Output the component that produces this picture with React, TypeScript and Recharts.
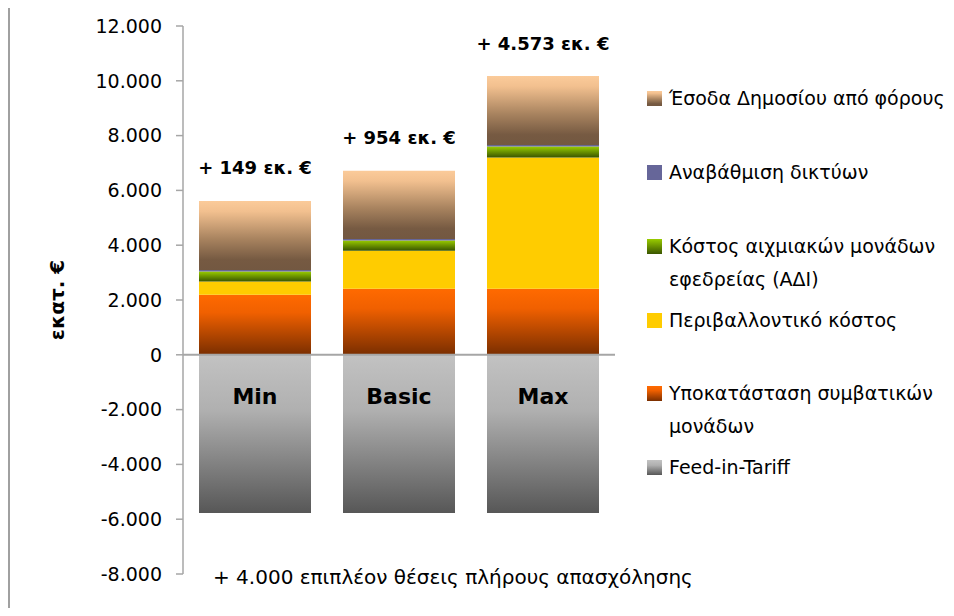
import { BarChart, Bar, XAxis, YAxis, Legend, ReferenceLine, LabelList, Label } from 'recharts'

const categories = ['Min', 'Basic', 'Max']
const feedInTariff = [-5770, -5770, -5770]
const substitution = [2190, 2410, 2410]
const environmental = [485, 1390, 4790]
const reserveCost = [365, 375, 400]
const gridUpgrade = [55, 55, 55]
const taxRevenue = [2520, 2490, 2520]
const gainLabels = ['+ 149 εκ. €', '+ 954 εκ. €', '+ 4.573 εκ. €']
const yTicks = [-8000, -6000, -4000, -2000, 0, 2000, 4000, 6000, 8000, 10000, 12000]
const footNote = '+ 4.000 επιπλέον θέσεις πλήρους απασχόλησης'

const FONT = '"DejaVu Sans", Verdana, sans-serif'

type Stop = [number, string]
interface Series { key: string; name: string; stops: Stop[] }

// bottom to top
const SERIES: Series[] = [
  { key: 'fit', name: 'Feed-in-Tariff', stops: [[0, '#c2c2c2'], [0.35, '#b0b0b0'], [1, '#575757']] },
  { key: 'sub', name: 'Υποκατάσταση συμβατικών μονάδων', stops: [[0, '#ff6a00'], [0.3, '#f06000'], [1, '#7a2e00']] },
  { key: 'env', name: 'Περιβαλλοντικό κόστος', stops: [[0, '#ffcc00'], [1, '#ffcc00']] },
  { key: 'res', name: 'Κόστος αιχμιακών μονάδων εφεδρείας (ΑΔΙ)', stops: [[0, '#99cc00'], [1, '#3a5500']] },
  { key: 'grid', name: 'Αναβάθμιση δικτύων', stops: [[0, '#666699'], [1, '#666699']] },
  { key: 'tax', name: 'Έσοδα Δημοσίου από φόρους', stops: [[0, '#fbcb9a'], [0.15, '#f2c08f'], [0.55, '#a8835f'], [0.85, '#765a42'], [1, '#735841']] },
]

const data = categories.map((name, i) => ({
  name,
  fit: feedInTariff[i],
  sub: substitution[i],
  env: environmental[i],
  res: reserveCost[i],
  grid: gridUpgrade[i],
  tax: taxRevenue[i],
  gain: gainLabels[i],
}))

const fmt = (v: number) => v.toLocaleString('de-DE')

// top of each legend row, px inside the legend box
const LEGEND_ROWS = [74, 148, 222, 296, 369, 443]

function LegendBox() {
  const items = [...SERIES].reverse()
  return (
    <div style={{ position: 'relative', width: 300, height: 600, fontFamily: FONT, fontSize: 19, color: '#000' }}>
      {items.map((s, i) => {
        const grad = `linear-gradient(to bottom, ${s.stops.map(([o, c]) => `${c} ${o * 100}%`).join(', ')})`
        return (
          <div key={s.key} style={{ position: 'absolute', left: 0, top: LEGEND_ROWS[i], width: 300, lineHeight: '33px' }}>
            <div style={{ position: 'absolute', left: 0, top: 9, width: 15, height: 15, background: grad }} />
            <div style={{ marginLeft: 22, width: 278 }}>{s.name}</div>
          </div>
        )
      })}
    </div>
  )
}

function YTitle({ viewBox }: any) {
  const cx = viewBox.x + 49
  const cy = viewBox.y + viewBox.height / 2
  return (
    <text x={cx} y={cy} transform={`rotate(-90 ${cx} ${cy})`} textAnchor="middle" dominantBaseline="central"
      fontFamily={FONT} fontSize={20} fontWeight="bold" fill="#000">εκατ. €</text>
  )
}

// category name just under the zero line, inside the negative bar
function CategoryLabel({ x, y, width, height, value }: any) {
  const top = Math.min(y, y + height)
  return (
    <text x={x + width / 2} y={top + 42} textAnchor="middle" dominantBaseline="central"
      fontFamily={FONT} fontSize={22} fontWeight="bold" fill="#000">{value}</text>
  )
}

// total gain above the stack
function GainLabel({ x, y, width, height, value }: any) {
  const top = Math.min(y, y + height)
  return (
    <text x={x + width / 2} y={top - 33} textAnchor="middle" dominantBaseline="central"
      fontFamily={FONT} fontSize={18} fontWeight="bold" fill="#000">{value}</text>
  )
}

export default function App() {
  return (
    <div style={{ position: 'relative', width: 938, height: 600, background: '#fff' }}>
      <div style={{ position: 'absolute', left: 0, top: -8, width: 2, height: 616, background: '#a0a0a0' }} />
      <BarChart width={938} height={600} data={data} stackOffset="sign" barSize={112}
        margin={{ top: 18, right: 331, left: 0, bottom: 34 }}>
        <defs>
          {SERIES.map(s => (
            <linearGradient key={s.key} id={`g-${s.key}`} x1="0" y1="0" x2="0" y2="1">
              {s.stops.map(([o, c], j) => <stop key={j} offset={o} stopColor={c} />)}
            </linearGradient>
          ))}
        </defs>
        <XAxis dataKey="name" hide />
        <YAxis width={175} domain={[-8000, 12000]} ticks={yTicks} interval={0} tickFormatter={fmt}
          tick={{ fontSize: 19, fill: '#000', fontFamily: FONT }}
          tickSize={7} tickMargin={14}
          axisLine={{ stroke: '#a6a6a6', strokeWidth: 1.5 }} tickLine={{ stroke: '#a6a6a6', strokeWidth: 1.5 }}>
          <Label content={<YTitle />} />
        </YAxis>
        <Legend layout="horizontal" verticalAlign="middle" align="center" content={<LegendBox />}
          wrapperStyle={{ left: 639, top: 0, width: 300, height: 600 }} />
        {SERIES.map(s => (
          <Bar key={s.key} dataKey={s.key} name={s.name} stackId="a" fill={`url(#g-${s.key})`} isAnimationActive={false}>
            {s.key === 'fit' && <LabelList dataKey="name" content={<CategoryLabel />} />}
            {s.key === 'tax' && <LabelList dataKey="gain" content={<GainLabel />} />}
          </Bar>
        ))}
        <ReferenceLine y={0} stroke="#a6a6a6" strokeWidth={2} />
      </BarChart>
      <div style={{ position: 'absolute', left: 205, top: 557, fontFamily: FONT, fontSize: 20, color: '#000', whiteSpace: 'nowrap' }}>
        {footNote}
      </div>
    </div>
  )
}
